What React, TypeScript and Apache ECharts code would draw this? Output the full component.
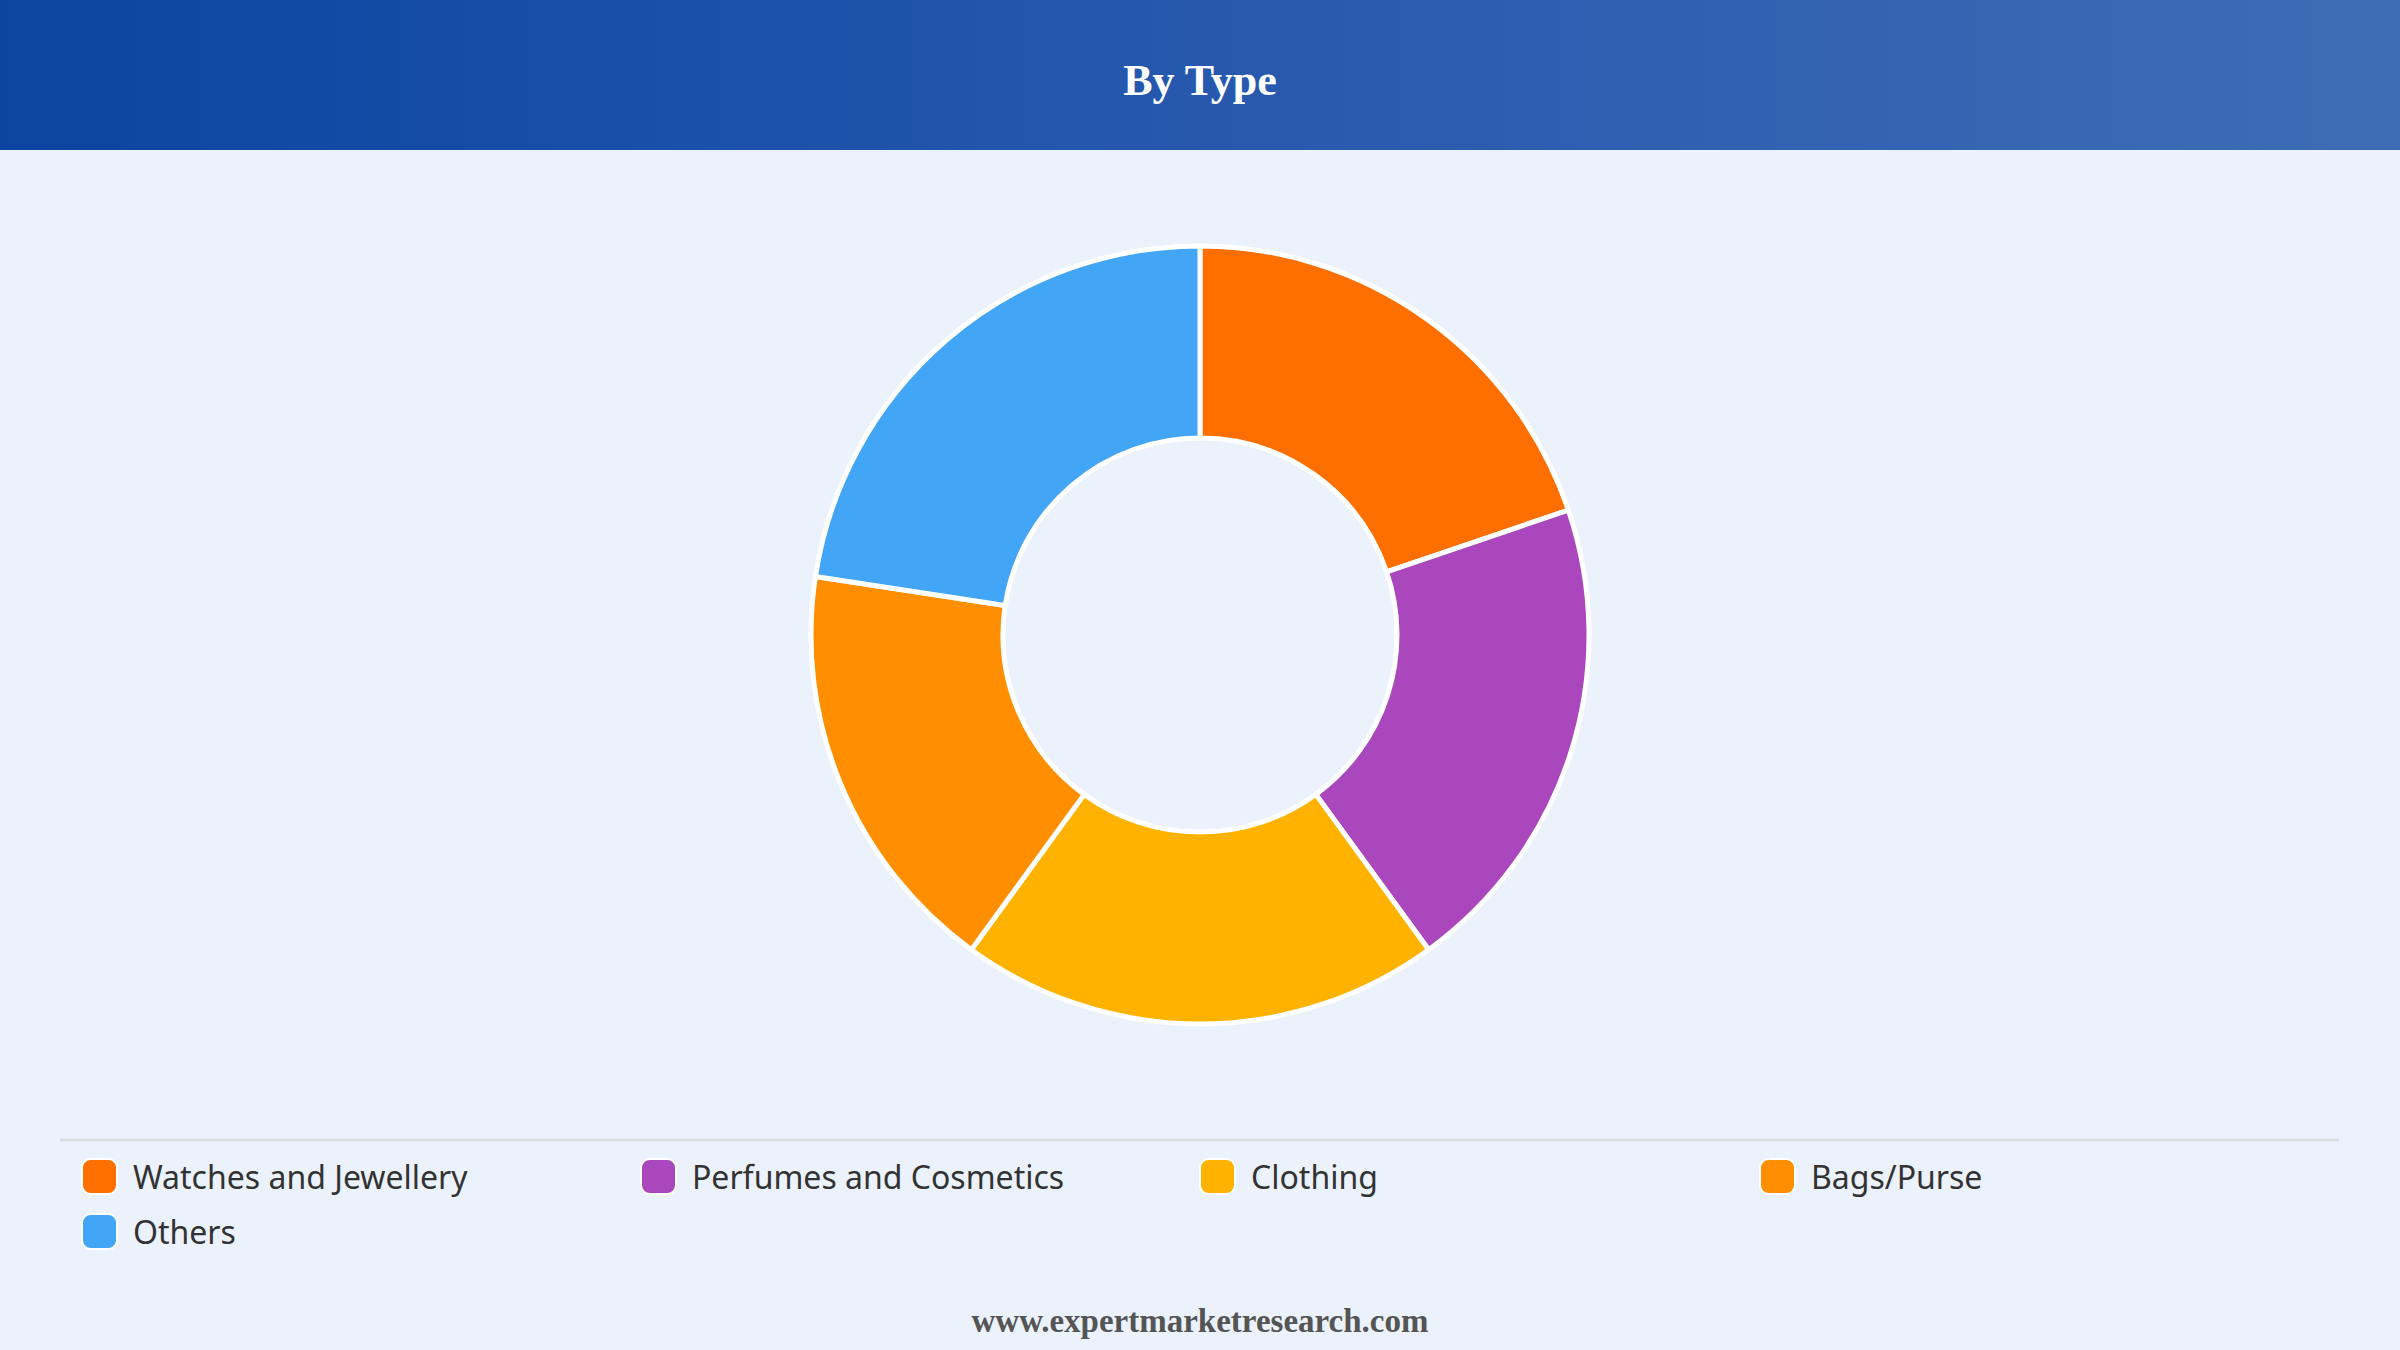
import React, { useEffect, useRef } from "react";
import * as echarts from "echarts";

// Market share by product type (%)
const categories = [
  "Watches and Jewellery",
  "Perfumes and Cosmetics",
  "Clothing",
  "Bags/Purse",
  "Others",
];
const shares = [19.8, 20.2, 20.0, 17.4, 22.6];
const sliceColors = ["#FF6F00", "#AB47BC", "#FFB300", "#FF8F00", "#42A5F5"];

const titleText = "By Type";
const footerText = "www.expertmarketresearch.com";

const W = 2400;
const H = 1350;

export default function App() {
  const ref = useRef<HTMLDivElement>(null);

  useEffect(() => {
    document.body.style.margin = "0";
    if (!ref.current) return;
    const chart = echarts.init(ref.current, null, { renderer: "svg" });

    // one legend per entry so the entries sit on a fixed column grid
    const colX = [81, 640, 1199, 1759];
    const rowY = [1158, 1213];
    const legends = categories.map((name, i) => ({
      data: [name],
      left: colX[i % 4],
      top: rowY[Math.floor(i / 4)],
      orient: "horizontal",
      padding: 0,
      itemWidth: 35,
      itemHeight: 35,
      icon: "roundRect",
      selectedMode: false,
      textStyle: {
        fontFamily: "Noto Sans",
        fontSize: 32,
        color: "#333333",
        padding: [0, 0, 0, 11],
      },
    }));

    chart.setOption({
      animation: false,
      backgroundColor: "#EBF2FB",
      color: sliceColors,
      title: [
        {
          text: titleText,
          left: "center",
          top: 53,
          textStyle: {
            fontFamily: "Liberation Serif",
            fontWeight: "bold",
            fontSize: 44,
            color: "#FFFFFF",
          },
        },
        {
          text: footerText,
          left: "center",
          top: 1299,
          textStyle: {
            fontFamily: "Liberation Serif",
            fontWeight: "bold",
            fontSize: 33,
            color: "#555555",
          },
        },
      ],
      graphic: [
        {
          type: "rect",
          left: 0,
          top: 0,
          z: -1,
          shape: { width: W, height: 150 },
          style: {
            fill: new echarts.graphic.LinearGradient(0, 0, 1, 0, [
              { offset: 0, color: "#0C44A1" },
              { offset: 0.5, color: "#2659AE" },
              { offset: 1, color: "#3E6DB5" },
            ]),
          },
        },
        {
          type: "line",
          shape: { x1: 60, y1: 1140, x2: 2339, y2: 1140 },
          style: { stroke: "#DADEE3", lineWidth: 3 },
        },
      ],
      legend: legends,
      series: [
        {
          type: "pie",
          center: [1200, 635],
          radius: [197, 389],
          startAngle: 90,
          clockwise: true,
          label: { show: false },
          labelLine: { show: false },
          emphasis: { disabled: true },
          itemStyle: { borderColor: "#FFFFFF", borderWidth: 5 },
          data: categories.map((name, i) => ({ name, value: shares[i] })),
        },
      ],
    });

    return () => chart.dispose();
  }, []);

  return (
    <div
      ref={ref}
      style={{ position: "absolute", left: 0, top: 0, width: W, height: H }}
    />
  );
}
